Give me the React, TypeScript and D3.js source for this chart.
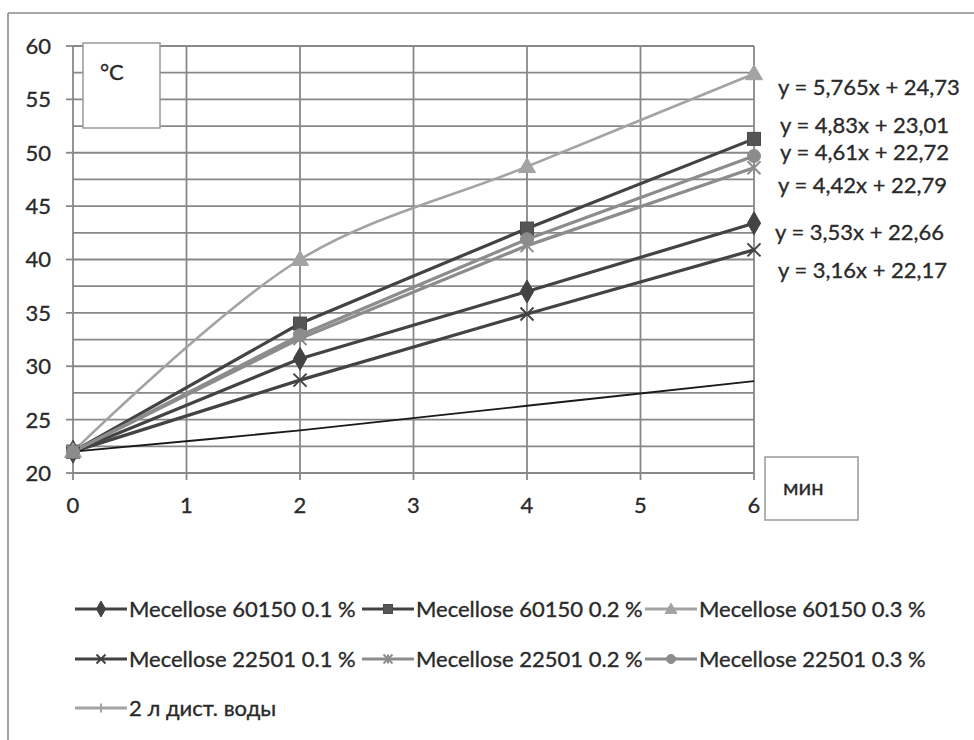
import React from "react";
import * as d3 from "d3";

// Heating time, minutes
const TIME_MIN = [0, 2, 4, 6];

// Temperature, °C
const M60150_01 = [22, 30.7, 37.0, 43.4];
const M60150_02 = [22, 34.0, 42.9, 51.3];
const M60150_03 = [22, 40.0, 48.7, 57.4];
const M22501_01 = [22, 28.7, 34.9, 40.9];
const M22501_02 = [22, 32.6, 41.3, 48.6];
const M22501_03 = [22, 32.9, 41.9, 49.7];
const WATER = [22, 24.0, 26.3, 28.6];

const SERIES_NAMES = [
  "Mecellose 60150 0.1 %",
  "Mecellose 60150 0.2 %",
  "Mecellose 60150 0.3 %",
  "Mecellose 22501 0.1 %",
  "Mecellose 22501 0.2 %",
  "Mecellose 22501 0.3 %",
  "2 л дист. воды",
];

const TRENDLINE_LABELS = [
  "y = 5,765x + 24,73",
  "y = 4,83x + 23,01",
  "y = 4,61x + 22,72",
  "y = 4,42x + 22,79",
  "y = 3,53x + 22,66",
  "y = 3,16x + 22,17",
];

const Y_TICKS = [20, 25, 30, 35, 40, 45, 50, 55, 60];
const Y_GRID = [20, 22.5, 25, 27.5, 30, 32.5, 35, 37.5, 40, 42.5, 45, 47.5, 50, 52.5, 55, 57.5, 60];
const X_TICKS = [0, 1, 2, 3, 4, 5, 6];

type Marker = "diamond" | "square" | "triangle" | "x" | "star" | "circle" | "plus";

const DARK = "#434343";
const MID = "#8c8c8c";
const LIGHT = "#a3a3a3";

const SERIES = [
  { name: SERIES_NAMES[0], values: M60150_01, color: DARK, marker: "diamond" as Marker, width: 3.2, smooth: false },
  { name: SERIES_NAMES[1], values: M60150_02, color: DARK, marker: "square" as Marker, width: 3.2, smooth: false },
  { name: SERIES_NAMES[2], values: M60150_03, color: LIGHT, marker: "triangle" as Marker, width: 2.6, smooth: true },
  { name: SERIES_NAMES[3], values: M22501_01, color: DARK, marker: "x" as Marker, width: 3.2, smooth: false },
  { name: SERIES_NAMES[4], values: M22501_02, color: MID, marker: "star" as Marker, width: 3.2, smooth: false },
  { name: SERIES_NAMES[5], values: M22501_03, color: MID, marker: "circle" as Marker, width: 3.2, smooth: false },
  { name: SERIES_NAMES[6], values: WATER, color: LIGHT, marker: "plus" as Marker, width: 2.6, smooth: true },
];

const W = 974;
const H = 740;
const FONT = "Lato, 'Open Sans', sans-serif";
const TEXT = "#2a2a2a";
const FS = 22;

const x = d3.scaleLinear().domain([0, 6]).range([73, 754]);
const y = d3.scaleLinear().domain([20, 60]).range([473, 46]);

function MarkerShape({ kind, cx, cy, color, s }: { kind: Marker; cx: number; cy: number; color: string; s: number }) {
  switch (kind) {
    case "diamond":
      return <path d={d3.symbol(d3.symbolDiamond, s * s * 0.9)()!} transform={`translate(${cx},${cy})`} fill={color} stroke={color} />;
    case "square":
      return <rect x={cx - s / 2} y={cy - s / 2} width={s} height={s} fill="#555" stroke="#4a4a4a" />;
    case "triangle":
      return <path d={d3.symbol(d3.symbolTriangle, s * s * 0.75)()!} transform={`translate(${cx},${cy + 1})`} fill={color} stroke={color} />;
    case "circle":
      return <circle cx={cx} cy={cy} r={s / 2} fill={color} stroke={color} />;
    case "x": {
      const h = s / 2;
      return (
        <g stroke={color} strokeWidth={2}>
          <line x1={cx - h} y1={cy - h} x2={cx + h} y2={cy + h} />
          <line x1={cx - h} y1={cy + h} x2={cx + h} y2={cy - h} />
        </g>
      );
    }
    case "star": {
      const h = s / 2;
      return (
        <g stroke={color} strokeWidth={2}>
          <line x1={cx - h} y1={cy - h} x2={cx + h} y2={cy + h} />
          <line x1={cx - h} y1={cy + h} x2={cx + h} y2={cy - h} />
          <line x1={cx} y1={cy - h} x2={cx} y2={cy + h} />
        </g>
      );
    }
    case "plus": {
      const h = s / 2;
      return (
        <g stroke={color} strokeWidth={2}>
          <line x1={cx} y1={cy - h} x2={cx} y2={cy + h} />
          <line x1={cx - h} y1={cy} x2={cx + h} y2={cy} />
        </g>
      );
    }
  }
  return null;
}

// trendline equations placed to the right of the plot (left x, centre y)
const EQ_POS: [number, number][] = [
  [778, 87],
  [780, 125],
  [780, 152],
  [778, 185],
  [775, 232],
  [778, 270],
];

// legend grid: column starts of the line sample, row centres
const LEG_COLS = [75, 362, 645];
const LEG_ROWS = [609, 659, 708];

export default function App() {
  const linear = d3.line<number>().x((_, i) => x(TIME_MIN[i])).y((v) => y(v));
  const smooth = d3
    .line<number>()
    .x((_, i) => x(TIME_MIN[i]))
    .y((v) => y(v))
    .curve(d3.curveCatmullRom.alpha(0.5));

  const textProps = { fontSize: FS, fill: TEXT, stroke: TEXT, strokeWidth: 0.35 };

  return (
    <svg width={W} height={H} style={{ position: "absolute", left: 0, top: 0, background: "#fff" }} fontFamily={FONT}>
      <rect x={0} y={0} width={W} height={H} fill="#fff" />
      {/* chart frame (left and top edges in view) */}
      <line x1={8} y1={13} x2={W + 5} y2={13} stroke="#8a8a8a" strokeWidth={1.6} />
      <line x1={8} y1={13} x2={8} y2={H + 5} stroke="#8a8a8a" strokeWidth={1.6} />

      {/* gridlines */}
      {Y_GRID.map((v) => (
        <line key={"hg" + v} x1={x(0)} x2={x(6)} y1={y(v)} y2={y(v)} stroke="#888" strokeWidth={1.8} />
      ))}
      {X_TICKS.map((v) => (
        <line key={"vg" + v} x1={x(v)} x2={x(v)} y1={y(60)} y2={y(20) + 7} stroke="#888" strokeWidth={1.8} />
      ))}
      {Y_TICKS.map((v) => (
        <line key={"yt" + v} x1={x(0) - 7} x2={x(0)} y1={y(v)} y2={y(v)} stroke="#888" strokeWidth={1.8} />
      ))}

      {/* axis labels */}
      {Y_TICKS.map((v) => (
        <text key={"yl" + v} x={51} y={y(v)} dy="0.36em" textAnchor="end" {...textProps}>
          {v}
        </text>
      ))}
      {X_TICKS.map((v) => (
        <text key={"xl" + v} x={x(v)} y={505} dy="0.36em" textAnchor="middle" {...textProps}>
          {v}
        </text>
      ))}

      {/* unit boxes */}
      <rect x={83} y={43} width={77} height={85} fill="#fff" stroke="#999" strokeWidth={1.5} />
      <text x={100} y={72} dy="0.36em" {...textProps}>
        °C
      </text>
      <rect x={765} y={457} width={93} height={63} fill="#fff" stroke="#999" strokeWidth={1.5} />
      <text x={783} y={487} dy="0.36em" {...textProps}>
        мин
      </text>

      {/* series lines */}
      {SERIES.map((s, i) => (
        <path
          key={"ln" + i}
          d={(s.smooth ? smooth : linear)(s.values)!}
          fill="none"
          stroke={i === 6 ? "#1a1a1a" : s.color}
          strokeWidth={i === 6 ? 1.8 : s.width}
        />
      ))}
      {/* series markers */}
      {SERIES.map((s, i) =>
        i === 6
          ? null
          : s.values.map((v, j) => (
              <MarkerShape key={`mk${i}-${j}`} kind={s.marker} cx={x(TIME_MIN[j])} cy={y(v)} color={s.color} s={13} />
            ))
      )}

      {/* trendline equations */}
      {TRENDLINE_LABELS.map((t, i) => (
        <text key={"eq" + i} x={EQ_POS[i][0]} y={EQ_POS[i][1]} dy="0.36em" {...textProps}>
          {t}
        </text>
      ))}

      {/* legend */}
      {SERIES.map((s, i) => {
        const col = i === 6 ? 0 : i % 3;
        const row = i === 6 ? 2 : Math.floor(i / 3);
        const lx = LEG_COLS[col];
        const ly = LEG_ROWS[row];
        return (
          <g key={"lg" + i}>
            <line x1={lx} x2={lx + 52} y1={ly} y2={ly} stroke={s.color} strokeWidth={3.2} />
            <MarkerShape kind={s.marker} cx={lx + 26} cy={ly} color={s.color} s={9} />
            <text x={lx + 54} y={ly} dy="0.36em" {...textProps}>
              {s.name}
            </text>
          </g>
        );
      })}
    </svg>
  );
}
